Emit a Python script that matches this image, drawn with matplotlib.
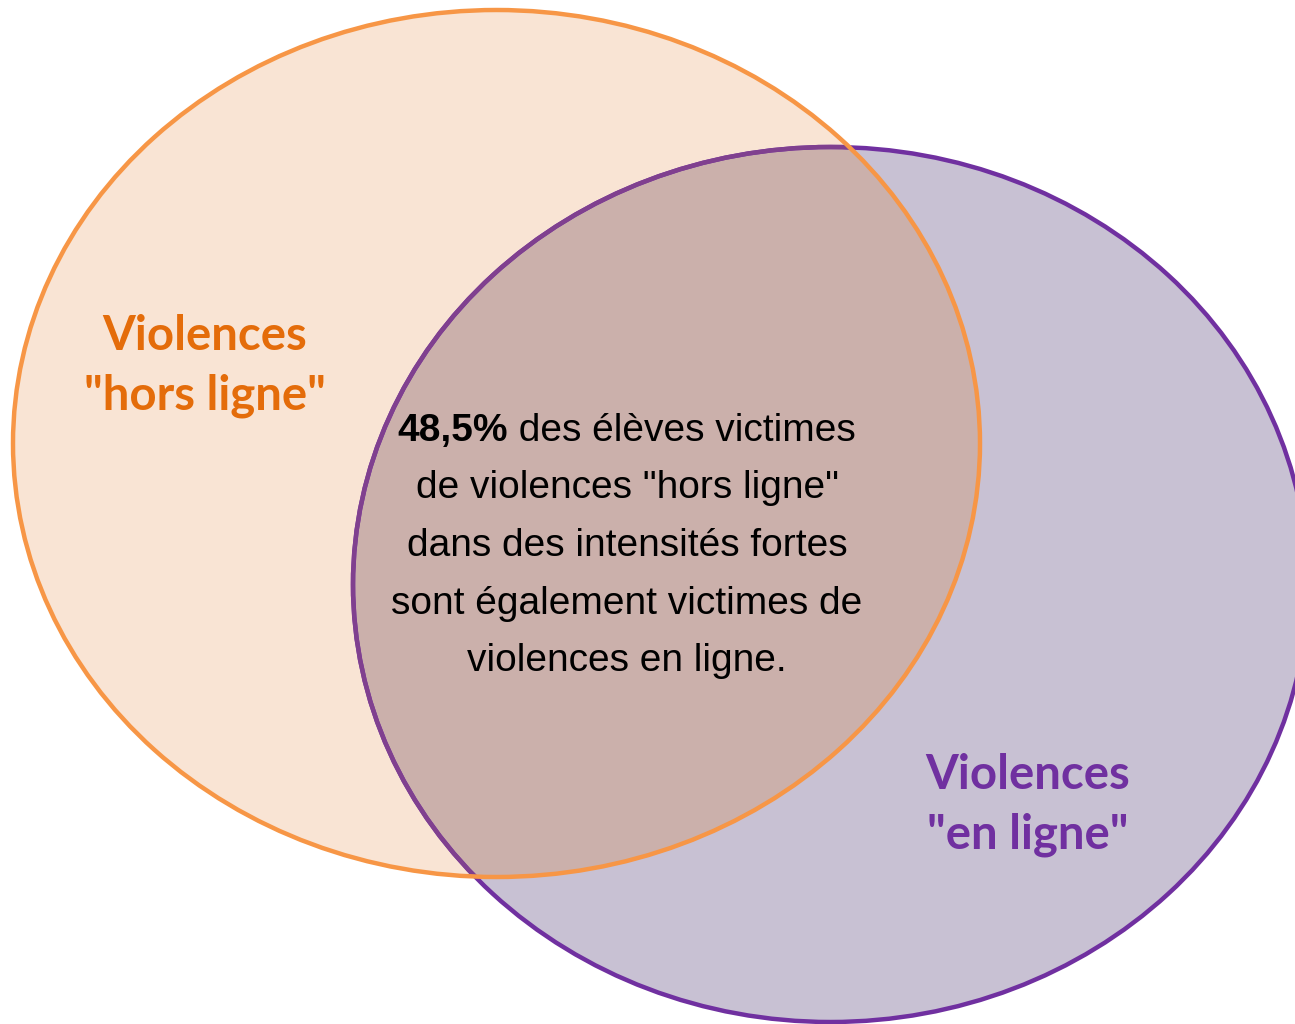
import matplotlib.pyplot as plt
from matplotlib.patches import Ellipse
from matplotlib import font_manager

# ellipse geometry (pixels, y downward) and labels
set_names = ['Violences\n"hors ligne"', 'Violences\n"en ligne"']
set_centers = [(496.5, 443.5), (830.5, 584.5)]
set_sizes = [(967, 867), (955, 875)]
label_pos = [(205, 366), (1028, 805)]
edge_colors = ['#F79646', '#7030A0']
fill_colors = ['#F9E4D4', '#C8C1D3']
label_colors = ['#E46C0A', '#7030A0']
overlap_color = '#CBB0AB'
muted_edge = '#80408F'

share_bold = '48,5%'
share_lines = [' des élèves victimes',
               'de violences "hors ligne"',
               'dans des intensités fortes',
               'sont également victimes de',
               'violences en ligne.']

names = {f.name for f in font_manager.fontManager.ttflist}
body_font = 'Liberation Sans Narrow' if 'Liberation Sans Narrow' in names else 'Liberation Sans'
body_fs = 25.5 if body_font == 'Liberation Sans Narrow' else 28
label_font = 'Lato'

W, H = 1295, 1024
fig = plt.figure(figsize=(W / 100, H / 100), dpi=100)
ax = fig.add_axes([0, 0, 1, 1])
ax.set_xlim(0, W)
ax.set_ylim(H, 0)
ax.axis('off')

e_off = Ellipse(set_centers[0], *set_sizes[0], facecolor=fill_colors[0], edgecolor='none', zorder=1)
e_on = Ellipse(set_centers[1], *set_sizes[1], facecolor=fill_colors[1], edgecolor='none', zorder=2)
ax.add_patch(e_off)
ax.add_patch(e_on)

# overlap region
ov = Ellipse(set_centers[0], *set_sizes[0], facecolor=overlap_color, edgecolor='none', zorder=3)
ax.add_patch(ov)
ov.set_clip_path(e_on)

ax.add_patch(Ellipse(set_centers[1], *set_sizes[1], facecolor='none',
                     edgecolor=edge_colors[1], lw=3.2, zorder=4))
# purple outline seen through the orange fill
inner = Ellipse(set_centers[1], *set_sizes[1], facecolor='none',
                edgecolor=muted_edge, lw=3.2, zorder=4.5)
ax.add_patch(inner)
inner.set_clip_path(e_off)
ax.add_patch(Ellipse(set_centers[0], *set_sizes[0], facecolor='none',
                     edgecolor=edge_colors[0], lw=3.2, zorder=5))

for name, (x, y), c in zip(set_names, label_pos, label_colors):
    ax.text(x, y, name, ha='center', va='center', color=c, fontsize=34,
            fontweight='bold', family=label_font, linespacing=1.45, zorder=6)

# centre text
cx = 627
y0 = 431
step = 57.5
renderer = fig.canvas.get_renderer()
tb = ax.text(0, y0, share_bold, ha='left', va='center', fontsize=body_fs,
             fontweight='bold', family=body_font, zorder=6)
tn = ax.text(0, y0, share_lines[0], ha='left', va='center', fontsize=body_fs,
             family=body_font, zorder=6)
wb = tb.get_window_extent(renderer).width
wn = tn.get_window_extent(renderer).width
left = cx - (wb + wn) / 2
tb.set_x(left)
tn.set_x(left + wb)
for i, line in enumerate(share_lines[1:], start=1):
    ax.text(cx, y0 + i * step, line, ha='center', va='center', fontsize=body_fs,
            family=body_font, zorder=6)

fig.savefig('out.png', dpi=100)
